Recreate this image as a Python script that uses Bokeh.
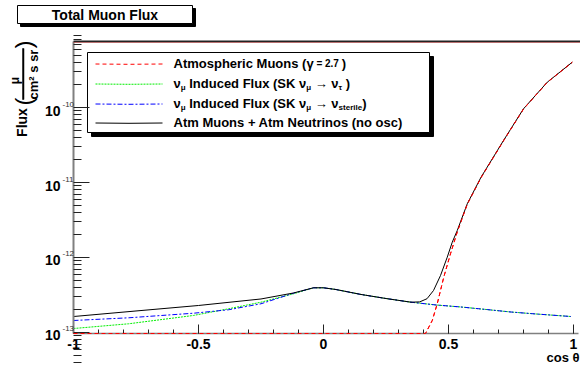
import numpy as np
from bokeh.plotting import figure
from bokeh.models import (Label, BoxAnnotation, FixedTicker, CustomJSTickFormatter)
from bokeh.embed import file_html
from bokeh.resources import INLINE

# ---------------- data ----------------
Y_MIN = 9.7e-14     # bottom of the log axis (zero bins drawn here)
Y_MAX = 7.59e-10    # top of the frame

# Atmospheric muons (gamma = 2.7)
cos_mu = [-1.0, 0.408, 0.435, 0.455, 0.481, 0.508, 0.535, 0.575, 0.63, 0.72, 0.80, 0.895, 0.995]
flux_mu = [9.7e-14, 9.7e-14, 1.445e-13, 2.415e-13, 5.458e-13, 1.122e-12, 2.188e-12,
           5.129e-12, 1.16e-11, 3.6e-11, 9.55e-11, 2.17e-10, 4.018e-10]

# nu_mu induced flux, shared cos grid
cos_nu = [-1.0, -0.78, -0.52, -0.38, -0.25, -0.12, -0.04, 0.0, 0.05, 0.15, 0.25, 0.35,
          0.45, 0.55, 0.65, 0.75, 0.85, 0.99]
flux_tau = [1.130e-13, 1.306e-13, 1.687e-13, 2.070e-13, 2.535e-13, 3.281e-13, 3.945e-13,
            3.945e-13, 3.741e-13, 3.214e-13, 2.838e-13, 2.535e-13, 2.328e-13, 2.188e-13,
            2.028e-13, 1.875e-13, 1.766e-13, 1.633e-13]
flux_sterile = [1.445e-13, 1.570e-13, 1.807e-13, 2.009e-13, 2.415e-13, 3.342e-13, 3.945e-13,
                3.945e-13, 3.741e-13, 3.214e-13, 2.838e-13, 2.535e-13, 2.328e-13, 2.188e-13,
                2.028e-13, 1.875e-13, 1.766e-13, 1.633e-13]

# Atm muons + atm neutrinos (no osc)
cos_tot = [-1.0, -0.75, -0.5, -0.25, -0.12, -0.04, 0.0, 0.05, 0.15, 0.25, 0.35, 0.385,
           0.414, 0.44, 0.468, 0.495, 0.515, 0.535, 0.575, 0.63, 0.72, 0.80, 0.895, 0.995]
flux_tot = [1.633e-13, 1.936e-13, 2.291e-13, 2.799e-13, 3.365e-13, 3.945e-13, 3.945e-13,
            3.741e-13, 3.214e-13, 2.838e-13, 2.535e-13, 2.56e-13, 2.82e-13, 3.63e-13,
            5.75e-13, 1.01e-12, 1.6e-12, 2.29e-12, 5.2e-12, 1.175e-11, 3.631e-11,
            9.616e-11, 2.173e-10, 4.018e-10]

x_ticks = [-1, -0.5, 0, 0.5, 1]
x_minor = [round(-1 + 0.1 * i, 1) for i in range(21)]
y_ticks = [1e-13, 1e-12, 1e-11, 1e-10]
y_tick_exp = ["-13", "-12", "-11", "-10"]
y_minor = [k * 10.0 ** e for e in range(-14, -9) for k in range(2, 10)]

title_text = "Total Muon Flux"
x_title = "cos θ"

STYLE_MU = dict(line_color="#ff0000", line_width=1, line_dash="4 3")
STYLE_TAU = dict(line_color="#00ee00", line_width=1, line_dash="2 1")
STYLE_ST = dict(line_color="#0000ff", line_width=1, line_dash="5 2 2 2")
STYLE_TOT = dict(line_color="black", line_width=1)

# ---------------- canvas geometry ----------------
WIDTH, HEIGHT = 580, 365
# data window chosen so that the whole canvas is the frame: axes sit at fixed locations
X_START, X_END = -1.292, 1.028
Y_START, Y_END = 3.63e-14, 2.672e-9


def fx(X):
    return X


def fy(Y):
    return HEIGHT - Y


def px_to_x(X):
    return X_START + X / WIDTH * (X_END - X_START)


def px_to_y(Y):
    lo, hi = np.log10(Y_START), np.log10(Y_END)
    return 10 ** (hi - Y / HEIGHT * (hi - lo))


W = {' ': 278, '(': 333, ')': 333, '+': 584, '=': 584, '.': 278, '2': 556, '7': 556,
     'A': 722, 'F': 611, 'I': 278, 'K': 722, 'M': 833, 'N': 722, 'S': 667, 'a': 556,
     'c': 556, 'd': 611, 'e': 556, 'h': 611, 'i': 278, 'l': 278, 'm': 889, 'n': 611,
     'o': 611, 'p': 611, 'r': 389, 's': 556, 't': 333, 'u': 611, 'x': 556, 'ν': 556,
     'γ': 556, 'μ': 611, 'τ': 444, '→': 1000}


def tw(s, size):
    return sum(W.get(c, 556) for c in s) * size / 1000.0


FONT = "Liberation Sans"

p = figure(width=WIDTH, height=HEIGHT, x_range=(X_START, X_END), y_range=(Y_START, Y_END),
           y_axis_type="log", output_backend="svg", toolbar_location=None,
           min_border=0, min_border_left=0, min_border_right=0, min_border_top=0,
           min_border_bottom=0)
p.grid.visible = False
p.outline_line_color = None
p.background_fill_color = "white"
p.border_fill_color = "white"

# legend box with shadow (drawn first, as glyphs in the same layer as the curves)
p.quad(left=[px_to_x(91)], right=[px_to_x(433)], top=[px_to_y(56)], bottom=[px_to_y(136)],
       fill_color="black", line_color="black")
p.quad(left=[px_to_x(87)], right=[px_to_x(429)], top=[px_to_y(52)], bottom=[px_to_y(132)],
       fill_color="white", line_color="black", line_width=1)

# curves
r_mu = p.line(cos_mu, flux_mu, **STYLE_MU)
r_tau = p.line(cos_nu, flux_tau, **STYLE_TAU)
r_st = p.line(cos_nu, flux_sterile, **STYLE_ST)
r_tot = p.line(cos_tot, flux_tot, **STYLE_TOT)

# legend samples (a 3-point polyline with a sub-pixel kink so its box is never flat)
for row_y, st in zip((63.5, 83.5, 103.5, 122.5), (STYLE_MU, STYLE_TAU, STYLE_ST, STYLE_TOT)):
    p.line([px_to_x(95), px_to_x(128.5), px_to_x(162)],
           [px_to_y(row_y), px_to_y(row_y + 0.3), px_to_y(row_y)], **st)

# axes (drawn at fixed positions inside the canvas-wide frame)
xa = p.xaxis[0]
xa.fixed_location = Y_MIN
xa.bounds = (-1, 1.02)
xa.ticker = FixedTicker(ticks=x_ticks, minor_ticks=x_minor)
xa.formatter = CustomJSTickFormatter(code="return String(tick)")
xa.major_tick_in = 9
xa.major_tick_out = 0
xa.minor_tick_in = 4
xa.minor_tick_out = 0
xa.axis_line_color = "#808080"
xa.axis_line_width = 1.5
xa.major_tick_line_color = "#222222"
xa.minor_tick_line_color = "#222222"
xa.major_label_text_font = FONT
xa.major_label_text_font_size = "14px"
xa.major_label_text_font_style = "bold"
xa.major_label_text_color = "black"
xa.major_label_standoff = 6

ya = p.yaxis[0]
ya.fixed_location = -1
ya.bounds = (Y_MIN, Y_MAX)
ya.ticker = FixedTicker(ticks=y_ticks, minor_ticks=y_minor)
ya.formatter = CustomJSTickFormatter(code="return ''")
ya.major_tick_in = 16
ya.major_tick_out = 0
ya.minor_tick_in = 8
ya.minor_tick_out = 0
ya.axis_line_color = "#808080"
ya.axis_line_width = 2
ya.major_tick_line_color = "#222222"
ya.minor_tick_line_color = "#222222"

# muon curve drawn again above the x axis so its zero-level part stays visible
r_mu_top = p.line(cos_mu, flux_mu, **STYLE_MU)
r_mu_top.level = "overlay"


def sbox(l, r, t, b, **kw):
    p.add_layout(BoxAnnotation(left=fx(l), right=fx(r), top=fy(t), bottom=fy(b),
                               left_units="screen", right_units="screen", top_units="screen",
                               bottom_units="screen", fill_alpha=1, line_alpha=1, **kw))


# top frame line
sbox(73, 580, 40, 41.5, fill_color="#222222", line_color=None)
sbox(73, 580, 41.5, 42.2, fill_color="#a04040", line_color=None)

# y tick labels 10^n
for t, e in zip(y_ticks, y_tick_exp):
    p.add_layout(Label(x=fx(60), x_units="screen", y=t, y_units="data", text="10",
                       text_align="right", text_baseline="middle", y_offset=-3,
                       text_font=FONT, text_font_size="14px", text_font_style="bold",
                       text_color="black"))
    p.add_layout(Label(x=fx(62), x_units="screen", y=t, y_units="data", text=e,
                       text_align="left", text_baseline="middle", y_offset=3.5,
                       text_font=FONT, text_font_size="8px", text_color="#333333"))

# title box with shadow
sbox(20, 195, 8, 26, fill_color="black", line_color="black")
sbox(17, 192, 5, 23, fill_color="white", line_color="black", line_width=1)
p.add_layout(Label(x=fx(104.5), y=fy(14), x_units="screen", y_units="screen", text=title_text,
                   text_align="center", text_baseline="middle", text_font=FONT,
                   text_font_size="14px", text_font_style="bold", text_color="black"))


def rich(X, Y, pieces):
    x = X
    for txt, size, dy in pieces:
        lead = len(txt) - len(txt.lstrip(' '))
        x += lead * W[' '] * size / 1000.0
        body = txt.lstrip(' ')
        if body:
            p.add_layout(Label(x=fx(x), y=fy(Y + dy), x_units="screen", y_units="screen",
                               text=body, text_align="left", text_baseline="middle",
                               text_font=FONT, text_font_size=f"{size}px",
                               text_font_style="bold", text_color="black"))
        x += tw(body, size)


rich(173, 63, [("Atmospheric Muons (", 13, 0), ("γ", 13, 0), (" = 2.7 ", 10, 0), (")", 13, 0)])
rich(173, 83, [("ν", 13, 0), ("μ", 8, 4), (" Induced Flux (SK ν", 13, 0), ("μ", 8, 4),
               (" → ν", 13, 0), ("τ", 8, 4), (" )", 13, 0)])
rich(173, 103, [("ν", 13, 0), ("μ", 8, 4), (" Induced Flux (SK ν", 13, 0), ("μ", 8, 4),
                (" → ν", 13, 0), ("sterile", 8, 4), (")", 13, 0)])
rich(173, 122, [("Atm Muons + Atm Neutrinos (no osc)", 13, 0)])


# y-axis title: Flux ( mu / cm^2 s sr ), rotated
def rot(X, Y, txt, size, bold=True):
    p.add_layout(Label(x=fx(X), y=fy(Y), x_units="screen", y_units="screen", text=txt,
                       angle=np.pi / 2, text_align="center", text_baseline="middle",
                       text_font=FONT, text_font_size=f"{size}px",
                       text_font_style="bold" if bold else "normal", text_color="black"))


rot(21, 122, "Flux", 14)
rot(22.5, 101, "(", 24, False)
rot(22.5, 44, ")", 24, False)
rot(14.5, 80, "μ", 12)
rot(32.5, 74, "cm² s sr", 13)
sbox(22, 23.5, 48, 99, fill_color="black", line_color="black", line_width=0.5)

# x-axis title
p.add_layout(Label(x=fx(579), y=fy(357), x_units="screen", y_units="screen", text=x_title,
                   text_align="right", text_baseline="middle", text_font=FONT,
                   text_font_size="13px", text_font_style="bold", text_color="black"))

open("out.html", "w").write(file_html(p, INLINE))
